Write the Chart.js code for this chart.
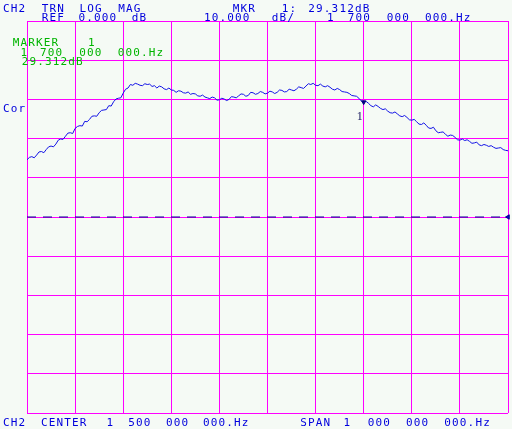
<!DOCTYPE html>
<html>
<head>
<meta charset="utf-8">
<script src="https://cdn.jsdelivr.net/npm/chart.js@4.4.1/dist/chart.umd.min.js"></script>
<style>
  html, body { margin: 0; padding: 0; background: #f5faf5; }
  canvas { display: block; }
</style>
</head>
<body>
<canvas id="vna" width="512" height="429"></canvas>
<script>
// sweep 1.0 - 2.0 GHz (dB)
const freqMHz = [
  1000, 1005, 1010, 1015, 1020, 1025, 1030, 1035, 1040, 1045,
  1050, 1055, 1060, 1065, 1070, 1075, 1080, 1085, 1090, 1095,
  1100, 1105, 1110, 1115, 1120, 1125, 1130, 1135, 1140, 1145,
  1150, 1155, 1160, 1165, 1170, 1175, 1180, 1185, 1190, 1195,
  1200, 1205, 1210, 1215, 1220, 1225, 1230, 1235, 1240, 1245,
  1250, 1255, 1260, 1265, 1270, 1275, 1280, 1285, 1290, 1295,
  1300, 1305, 1310, 1315, 1320, 1325, 1330, 1335, 1340, 1345,
  1350, 1355, 1360, 1365, 1370, 1375, 1380, 1385, 1390, 1395,
  1400, 1405, 1410, 1415, 1420, 1425, 1430, 1435, 1440, 1445,
  1450, 1455, 1460, 1465, 1470, 1475, 1480, 1485, 1490, 1495,
  1500, 1505, 1510, 1515, 1520, 1525, 1530, 1535, 1540, 1545,
  1550, 1555, 1560, 1565, 1570, 1575, 1580, 1585, 1590, 1595,
  1600, 1605, 1610, 1615, 1620, 1625, 1630, 1635, 1640, 1645,
  1650, 1655, 1660, 1665, 1670, 1675, 1680, 1685, 1690, 1695,
  1700, 1705, 1710, 1715, 1720, 1725, 1730, 1735, 1740, 1745,
  1750, 1755, 1760, 1765, 1770, 1775, 1780, 1785, 1790, 1795,
  1800, 1805, 1810, 1815, 1820, 1825, 1830, 1835, 1840, 1845,
  1850, 1855, 1860, 1865, 1870, 1875, 1880, 1885, 1890, 1895,
  1900, 1905, 1910, 1915, 1920, 1925, 1930, 1935, 1940, 1945,
  1950, 1955, 1960, 1965, 1970, 1975, 1980, 1985, 1990, 1995,
  2000
];
const magDb = [
  14.6, 15.2, 15.4, 15.1, 15.8, 16.6, 16.7, 16.4, 17.2, 17.9,
  18.1, 17.9, 18.6, 19.6, 19.9, 19.8, 20.6, 21.4, 21.5, 21.3,
  22.6, 23.1, 23.3, 23.2, 24.4, 24.3, 24.9, 25.7, 25.8, 25.7,
  26.6, 27.2, 27.3, 27.4, 28.4, 28.3, 29.4, 30.1, 30.3, 30.4,
  31.6, 32.6, 32.9, 33.8, 33.6, 34.1, 33.9, 33.6, 33.5, 34.0,
  33.8, 33.9, 33.3, 33.5, 32.9, 33.4, 33.2, 32.7, 32.5, 32.9,
  32.4, 32.3, 31.8, 32.2, 32.1, 31.7, 31.6, 31.9, 31.3, 31.5,
  31.4, 30.9, 30.8, 31.1, 30.6, 30.4, 30.2, 30.6, 30.4, 29.8,
  29.9, 30.3, 30.1, 29.7, 30.0, 30.7, 30.6, 30.4, 30.9, 31.4,
  31.3, 30.8, 31.0, 31.8, 31.7, 31.3, 31.5, 32.0, 31.8, 31.4,
  31.6, 32.1, 31.9, 31.5, 31.8, 32.4, 32.3, 31.9, 32.0, 32.6,
  32.4, 32.2, 32.6, 33.2, 33.0, 32.8, 33.4, 34.0, 33.8, 34.1,
  33.6, 33.5, 33.9, 33.4, 33.2, 33.5, 33.1, 32.6, 32.4, 32.8,
  32.5, 32.0, 31.9, 31.8, 31.5, 31.0, 30.9, 30.8, 30.3, 29.6,
  29.3, 29.5, 29.0, 28.4, 28.1, 28.6, 28.2, 27.7, 27.4, 27.6,
  27.0, 26.6, 26.5, 26.8, 26.3, 25.8, 25.6, 25.9, 25.4, 24.8,
  24.7, 24.9, 24.3, 23.7, 23.6, 24.0, 23.4, 22.7, 22.6, 22.9,
  22.0, 21.5, 21.6, 21.7, 21.1, 20.6, 20.9, 20.8, 20.3, 19.7,
  19.6, 19.9, 19.5, 19.7, 19.3, 18.8, 18.9, 19.1, 18.4, 18.2,
  18.5, 18.3, 18.0, 18.2, 17.8, 17.5, 17.6, 17.7, 17.2, 17.0,
  16.9
];
const refLevel = 0;          // REF 0.000 dB
const markerFreq = 1700;     // MHz
const markerDb = 29.312;

const blue = '#0000dd';
const green = '#00b400';

// screen annotations: [text, x, baselineY, colour]
const labels = [
  ['CH2', 3, 12, blue], ['TRN', 41.7, 12, blue], ['LOG', 79.5, 12, blue], ['MAG', 118.3, 12, blue],
  ['MKR', 232.7, 12, blue], ['1:', 281.7, 12, blue], ['29.312dB', 308.3, 12, blue],
  ['REF', 41.7, 21, blue], ['0.000', 78.5, 21, blue], ['dB', 131.7, 21, blue],
  ['10.000', 204, 21, blue], ['dB/', 271.7, 21, blue], ['1', 327, 21, blue],
  ['700', 347.7, 21, blue], ['000', 386.7, 21, blue], ['000.Hz', 425, 21, blue],
  ['MARKER', 12.7, 46, green], ['1', 88, 46, green],
  ['1', 20.5, 55.5, green], ['700', 40, 55.5, green], ['000', 79.3, 55.5, green], ['000.Hz', 117.7, 55.5, green],
  ['29.312dB', 21.7, 65, green],
  ['Cor', 3, 112, blue],
  ['CH2', 3, 426, blue], ['CENTER', 41, 426, blue], ['1', 106.5, 426, blue], ['500', 128.3, 426, blue],
  ['000', 166, 426, blue], ['000.Hz', 203, 426, blue],
  ['SPAN', 300.3, 426, blue], ['1', 343.5, 426, blue], ['000', 367.7, 426, blue],
  ['000', 406, 426, blue], ['000.Hz', 444.3, 426, blue]
];

const screenText = {
  id: 'screenText',
  afterDraw(chart) {
    const ctx = chart.ctx;
    ctx.save();
    ctx.font = '11px "DejaVu Sans Mono", monospace';
    ctx.letterSpacing = '1.15px';
    ctx.textBaseline = 'alphabetic';
    ctx.textAlign = 'left';
    labels.forEach(([t, x, y, c]) => {
      ctx.fillStyle = c;
      ctx.fillText(t, x, y);
    });
    // marker number under the marker
    const mx = chart.scales.x.getPixelForValue(markerFreq);
    const my = chart.scales.y.getPixelForValue(markerDb);
    ctx.letterSpacing = '0px';
    ctx.font = '12px "Liberation Serif", serif';
    ctx.fillStyle = '#14145a';
    ctx.textAlign = 'center';
    ctx.fillText('1', mx - 4, my + 18);
    ctx.restore();
  }
};

new Chart(document.getElementById('vna').getContext('2d'), {
  type: 'line',
  data: {
    datasets: [
      {
        label: 'CH2 TRN LOG MAG',
        data: freqMHz.map((f, i) => ({ x: f, y: magDb[i] })),
        borderColor: '#1212e6',
        borderWidth: 1,
        pointRadius: 0,
        tension: 0,
        order: 1
      },
      {
        label: 'REF',
        data: [{ x: 1000, y: refLevel }, { x: 2000, y: refLevel }],
        borderColor: '#00008c',
        backgroundColor: '#0000c8',
        borderWidth: 1,
        borderDash: [9, 7],
        pointRadius: [0, 2.5],
        pointStyle: 'triangle',
        rotation: -90,
        clip: false,
        order: 2
      },
      {
        label: 'MARKER 1',
        data: [{ x: markerFreq, y: markerDb }],
        showLine: false,
        pointStyle: 'triangle',
        rotation: 180,
        pointRadius: 2.5,
        borderWidth: 1,
        borderColor: '#000080',
        backgroundColor: '#000080',
        order: 0
      }
    ]
  },
  options: {
    responsive: false,
    animation: false,
    devicePixelRatio: 1,
    layout: { autoPadding: false, padding: { left: 27, top: 21, right: 4, bottom: 16 } },
    plugins: { legend: { display: false }, tooltip: { enabled: false } },
    scales: {
      x: {
        type: 'linear', min: 1000, max: 2000,
        ticks: { display: false, stepSize: 100 },
        grid: { color: '#ff00ff', lineWidth: 1, drawTicks: false },
        border: { display: false },
        afterFit(s) { s.height = 0; }
      },
      y: {
        type: 'linear', min: -50, max: 50,
        ticks: { display: false, stepSize: 10 },
        grid: { color: '#ff00ff', lineWidth: 1, drawTicks: false },
        border: { display: false },
        afterFit(s) { s.width = 0; }
      }
    }
  },
  plugins: [screenText]
});
</script>
</body>
</html>
